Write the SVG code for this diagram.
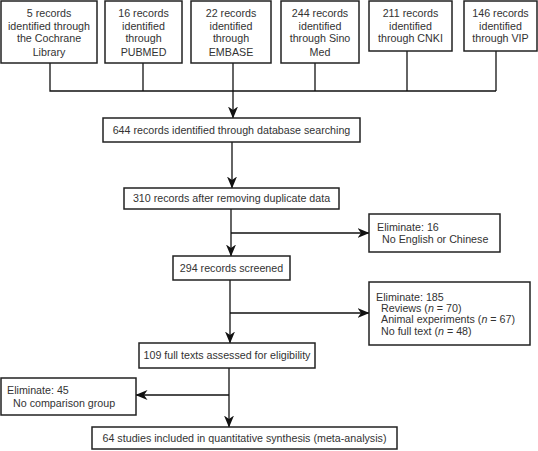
<svg xmlns="http://www.w3.org/2000/svg" width="538" height="451" viewBox="0 0 538 451">
<defs>
<marker id="ah" viewBox="0 0 12 10" refX="11.5" refY="5" markerWidth="12" markerHeight="10" markerUnits="userSpaceOnUse" orient="auto">
<path d="M0,0 L12,5 L0,10 L3.5,5 z" fill="#111"/>
</marker>
</defs>
<style>
rect{fill:#fff;stroke:#222;stroke-width:1.5}
text{font-family:"Liberation Sans",Arial,sans-serif;font-size:10.7px;fill:#333}
.c{text-anchor:middle}
.ln{fill:none;stroke:#111;stroke-width:1.3}
</style>
<rect x="0" y="0" width="538" height="451" style="fill:#fff;stroke:none"/>
<g id="connectors">
<polyline class="ln" points="50,63 50,91 496,91"/>
<line class="ln" x1="143" y1="63" x2="143" y2="91"/>
<line class="ln" x1="315" y1="63" x2="315" y2="91"/>
<line class="ln" x1="407" y1="51" x2="407" y2="91"/>
<line class="ln" x1="496" y1="51" x2="496" y2="91"/>
<line class="ln" x1="233" y1="63" x2="233" y2="118" marker-end="url(#ah)"/>
<line class="ln" x1="232" y1="142" x2="232" y2="188" marker-end="url(#ah)"/>
<line class="ln" x1="231" y1="209" x2="231" y2="256" marker-end="url(#ah)"/>
<line class="ln" x1="231" y1="233" x2="369" y2="233" marker-end="url(#ah)"/>
<line class="ln" x1="230" y1="280" x2="230" y2="343" marker-end="url(#ah)"/>
<line class="ln" x1="230" y1="313" x2="369" y2="313" marker-end="url(#ah)"/>
<line class="ln" x1="229" y1="368" x2="229" y2="427" marker-end="url(#ah)"/>
<line class="ln" x1="229" y1="395" x2="136" y2="395" marker-end="url(#ah)"/>
</g>
<g id="n1"><rect x="1" y="1" width="96" height="62"/>
<text class="c" x="49" y="17">5 records</text><text class="c" x="49" y="30">identified through</text><text class="c" x="49" y="42">the Cochrane</text><text class="c" x="49" y="56">Library</text></g>
<g id="n2"><rect x="105" y="1" width="77" height="62"/>
<text class="c" x="143.5" y="17">16 records</text><text class="c" x="143.5" y="30">identified</text><text class="c" x="143.5" y="42">through</text><text class="c" x="143.5" y="56">PUBMED</text></g>
<g id="n3"><rect x="191" y="1" width="80" height="62"/>
<text class="c" x="231" y="17">22 records</text><text class="c" x="231" y="30">identified</text><text class="c" x="231" y="42">through</text><text class="c" x="231" y="56">EMBASE</text></g>
<g id="n4"><rect x="281" y="1" width="78" height="62"/>
<text class="c" x="320" y="17">244 records</text><text class="c" x="320" y="30">identified</text><text class="c" x="320" y="42">through Sino</text><text class="c" x="320" y="56">Med</text></g>
<g id="n5"><rect x="369" y="1" width="83" height="50"/>
<text class="c" x="410.5" y="17">211 records</text><text class="c" x="410.5" y="30">identified</text><text class="c" x="410.5" y="42">through CNKI</text></g>
<g id="n6"><rect x="464" y="1" width="73" height="50"/>
<text class="c" x="500.5" y="17">146 records</text><text class="c" x="500.5" y="30">identified</text><text class="c" x="500.5" y="42">through VIP</text></g>
<g id="n7"><rect x="103" y="118" width="257" height="24"/>
<text class="c" x="231.5" y="134">644 records identified through database searching</text></g>
<g id="n8"><rect x="124" y="188" width="215" height="21"/>
<text class="c" x="231.5" y="202">310 records after removing duplicate data</text></g>
<g id="n9"><rect x="369" y="214" width="131" height="38"/>
<text x="377" y="231">Eliminate: 16</text><text x="382" y="243">No English or Chinese</text></g>
<g id="n10"><rect x="173" y="256" width="117" height="24"/>
<text class="c" x="231.5" y="272">294 records screened</text></g>
<g id="n11"><rect x="369" y="282" width="161" height="63"/>
<text x="376" y="301">Eliminate: 185</text>
<text x="381" y="312">Reviews (<tspan font-style="italic">n</tspan> = 70)</text>
<text x="381" y="323">Animal experiments (<tspan font-style="italic">n</tspan> = 67)</text>
<text x="381" y="335">No full text (<tspan font-style="italic">n</tspan> = 48)</text></g>
<g id="n12"><rect x="139" y="343" width="176" height="25"/>
<text class="c" x="227" y="359">109 full texts assessed for eligibility</text></g>
<g id="n13"><rect x="1" y="378" width="135" height="37"/>
<text x="7" y="394">Eliminate: 45</text><text x="13" y="407">No comparison group</text></g>
<g id="n14"><rect x="92" y="427" width="305" height="22"/>
<text class="c" x="244.5" y="442">64 studies included in quantitative synthesis (meta-analysis)</text></g>
</svg>
